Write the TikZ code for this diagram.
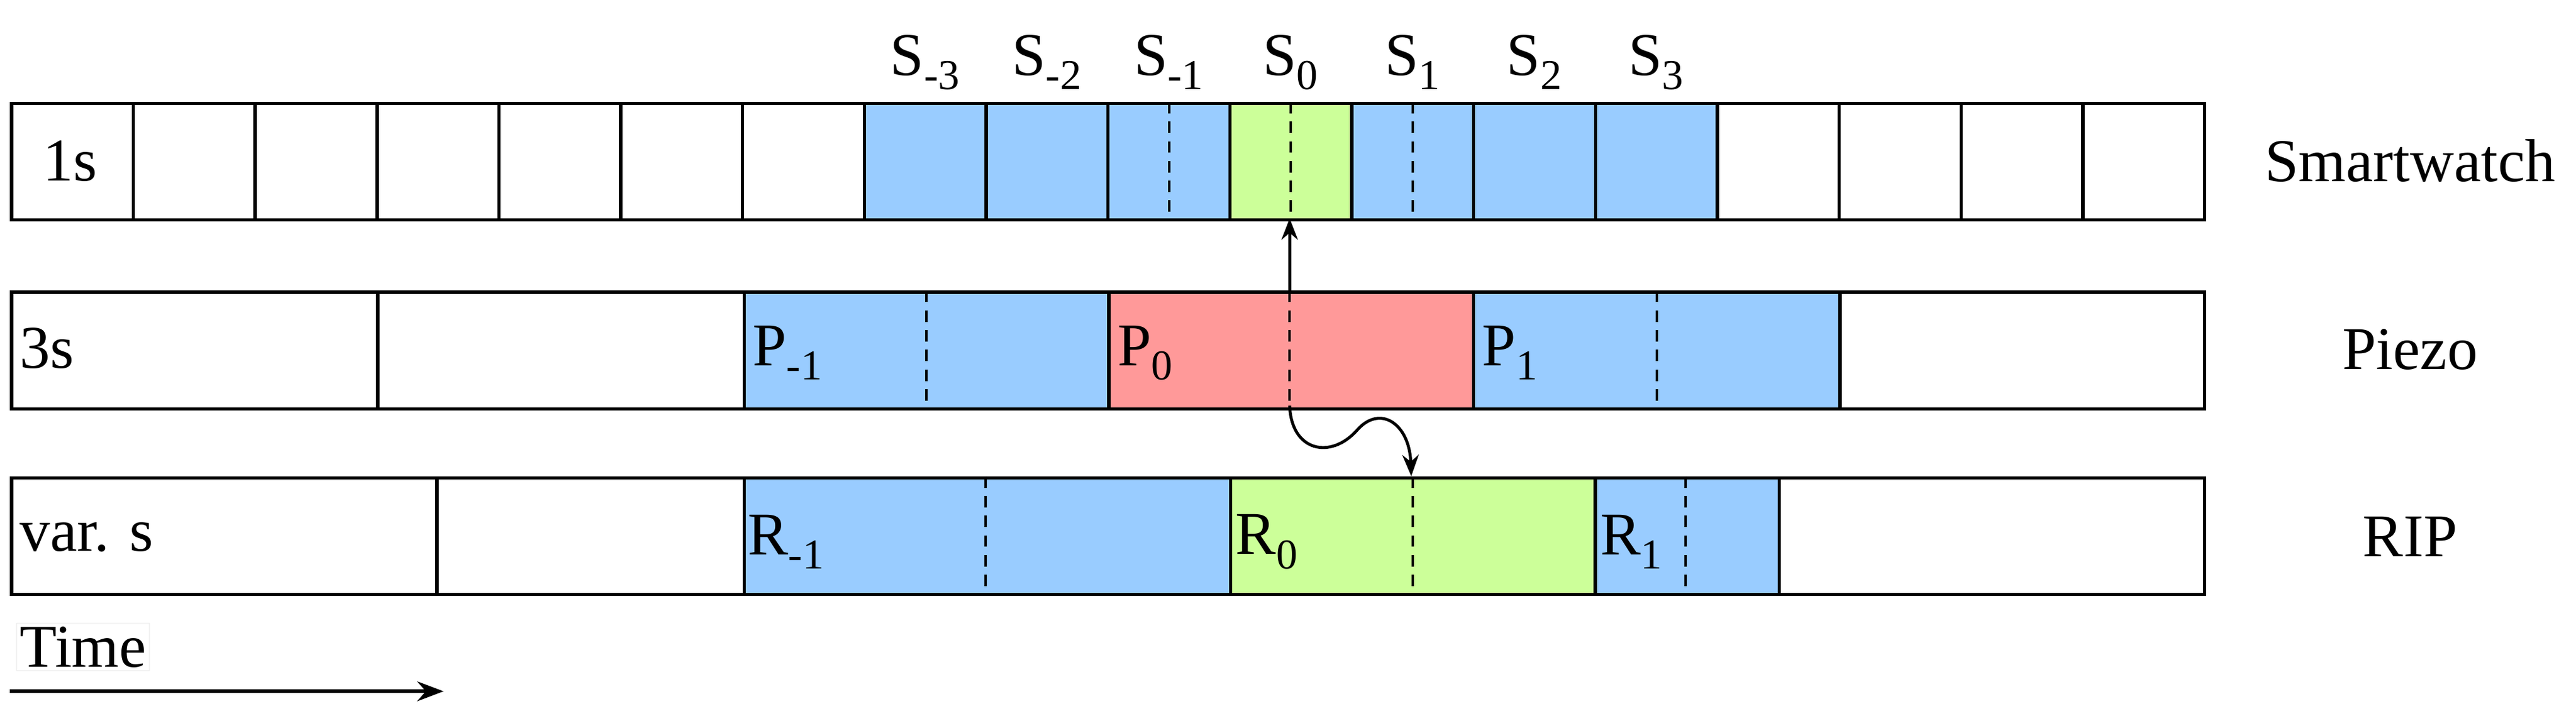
\documentclass[tikz,border=0pt]{standalone}
\usepackage{fontspec}
\setmainfont{Liberation Serif}
\usetikzlibrary{arrows.meta,calc}
\definecolor{cblue}{HTML}{99CCFF}
\definecolor{cgreen}{HTML}{CCFF99}
\definecolor{cred}{HTML}{FF9999}
\begin{document}
\begin{tikzpicture}[x=1pt,y=-1pt,
  cell/.style={draw, line width=2pt, inner sep=0, anchor=north west, minimum height=71pt},
  dsh/.style={dashed, dash pattern=on 7pt off 5pt, line width=1.5pt},
  lab/.style={font=\fontsize{37}{37}\selectfont, inner sep=0},
  every node/.append style={font=\fontsize{37}{37}\selectfont}]
\useasboundingbox (0,0) rectangle (1568,439);
% Row 1 (Smartwatch)
\foreach \i in {0,...,17}{
  \pgfmathsetmacro{\xx}{6+\i*74.167}
  \pgfmathtruncatemacro{\c}{(\i>=7 && \i<=13) ? 1 : 0}
  \ifnum\i=10 \def\fc{cgreen}\else\ifnum\c=1 \def\fc{cblue}\else\def\fc{white}\fi\fi
  \node[cell, fill=\fc, minimum width=74.167pt] (s\i) at (\xx,62) {};
}
% Row 2 (Piezo)
\node[cell, fill=white, minimum width=223pt] (p0) at (6,177) {};
\node[cell, fill=white, minimum width=223pt] (p1) at (229,177) {};
\node[cell, fill=cblue, minimum width=222pt] (p2) at (452,177) {};
\node[cell, fill=cred, minimum width=222pt] (p3) at (674,177) {};
\node[cell, fill=cblue, minimum width=223pt] (p4) at (896,177) {};
\node[cell, fill=white, minimum width=222pt] (p5) at (1119,177) {};
% Row 3 (RIP)
\node[cell, fill=white, minimum width=259pt] (r0) at (6,290) {};
\node[cell, fill=white, minimum width=187pt] (r1) at (265,290) {};
\node[cell, fill=cblue, minimum width=296pt] (r2) at (452,290) {};
\node[cell, fill=cgreen, minimum width=222pt] (r3) at (748,290) {};
\node[cell, fill=cblue, minimum width=112pt] (r4) at (970,290) {};
\node[cell, fill=white, minimum width=259pt] (r5) at (1082,290) {};
% dashes
\draw[dsh] (s9.north) -- (s9.south);
\draw[dsh] (s10.north) -- (s10.south);
\draw[dsh] (s11.north) -- (s11.south);
\draw[dsh] (p2.north) -- (p2.south);
\draw[dsh] (785,177) -- (785,248);
\draw[dsh] (p4.north) -- (p4.south);
\draw[dsh] (600,290) -- (600,361);
\draw[dsh] (r3.north) -- (r3.south);
\draw[dsh] (1026,290) -- (1026,361);
% top labels
\foreach \i/\t in {7/-3,8/-2,9/-1,10/0,11/1,12/2,13/3}
  \node[lab] at ($(s\i.north)+(0,-24)$) {S\textsubscript{\t}};
\node[lab, anchor=west] at (26,98) {1s};
\node[lab, anchor=west] at (12,212) {3s};
\node[lab, anchor=west] at (12,327) {var. s};
\node[lab, anchor=west] at (458,215) {P\textsubscript{-1}};
\node[lab, anchor=west] at (680,215) {P\textsubscript{0}};
\node[lab, anchor=west] at (902,215) {P\textsubscript{1}};
\node[lab, anchor=west] at (455,330) {R\textsubscript{-1}};
\node[lab, anchor=west] at (752,330) {R\textsubscript{0}};
\node[lab, anchor=west] at (974,330) {R\textsubscript{1}};
\node[lab] (sw) at (1467,98) {Smartwatch};
\node[lab] (pz) at (1467,213) {Piezo};
\node[lab] (rip) at (1467,327) {RIP};
% arrows
\coordinate (a0) at (785,177);
\coordinate (a1) at (785,133);
\draw[line width=1.8pt, -{Stealth[length=13pt,width=10pt]}] (a0) -- (a1);
\coordinate (b0) at (785,247);
\coordinate (b1) at (859,290);
\draw[line width=1.8pt, -{Stealth[length=13pt,width=10pt]}] (b0) .. controls (786,275) and (810,280) .. (826,262) .. controls (840,246) and (858,258) .. (b1);
% time
\node[draw=black!8, fill=white, inner sep=2pt, anchor=west] (time) at (10,394) {Time};
\coordinate (t0) at (6,421);
\coordinate (t1) at (270,421);
\draw[line width=2.2pt, -{Stealth[length=16pt,width=12pt]}] (t0) -- (t1);
\end{tikzpicture}
\end{document}
